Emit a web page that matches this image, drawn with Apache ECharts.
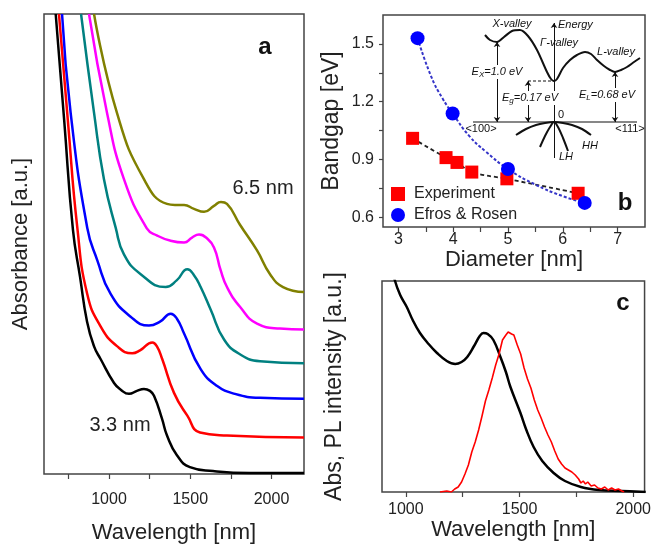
<!DOCTYPE html>
<html>
<head>
<meta charset="utf-8">
<script src="https://cdn.jsdelivr.net/npm/echarts@6/dist/echarts.min.js"></script>
<style>html,body{margin:0;padding:0;background:#fff}#c{width:654px;height:549px}</style>
</head>
<body>
<div id="c"></div>
<script>
// ---------- Panel a: absorbance spectra (wavelength nm, absorbance a.u.) ----------
const aTickValues = [750, 1000, 1250, 1500, 1750, 2000];
const aTickLabels = [1000, 1500, 2000];
const abs33nm = [[672,4.65],[725,3.56],[778,2.47],[822,1.99],[865,1.54],[908,1.29],[949,1.16],[1031,0.92],[1074,0.85],[1123,0.81],[1172,0.84],[1215,0.86],[1252,0.84],[1277,0.79],[1326,0.56],[1357,0.39],[1418,0.19],[1498,0.07],[1640,0.03],[1868,0.01],[2200,0.01]];
const absRed = [[692,4.65],[748,3.55],[805,2.49],[866,1.82],[949,1.49],[1051,1.29],[1143,1.22],[1191,1.25],[1267,1.33],[1295,1.29],[1328,1.16],[1400,0.82],[1482,0.59],[1560,0.42],[1726,0.39],[2200,0.37]];
const absBlue = [[711,4.65],[764,3.65],[866,2.49],[928,2.16],[1010,1.82],[1133,1.59],[1246,1.50],[1314,1.54],[1380,1.62],[1418,1.57],[1462,1.42],[1564,1.06],[1666,0.89],[1775,0.81],[1929,0.77],[2200,0.76]];
const absTeal = [[828,4.65],[908,3.65],[969,2.98],[1041,2.49],[1092,2.22],[1195,2.02],[1349,1.89],[1418,1.96],[1482,2.07],[1523,2.01],[1564,1.89],[1626,1.66],[1708,1.36],[1806,1.21],[1929,1.14],[2200,1.12]];
const absMagenta = [[877,4.65],[988,3.65],[1092,2.98],[1234,2.48],[1297,2.41],[1375,2.36],[1462,2.34],[1511,2.39],[1554,2.42],[1597,2.39],[1646,2.29],[1687,2.06],[1726,1.89],[1806,1.69],[1911,1.52],[2052,1.47],[2200,1.46]];
const abs65nm = [[908,4.65],[1049,3.65],[1215,2.98],[1357,2.73],[1406,2.72],[1462,2.72],[1523,2.68],[1585,2.65],[1646,2.71],[1689,2.75],[1726,2.73],[1806,2.52],[1911,2.26],[1991,2.02],[2071,1.89],[2200,1.84]];
const aSizeLabels = ['3.3 nm', '6.5 nm'];

// ---------- Panel b: bandgap vs diameter ----------
const bXTicks = [3, 3.5, 4, 4.5, 5, 5.5, 6, 6.5, 7];
const bXLabels = [3, 4, 5, 6, 7];
const bYTicks = [0.6, 0.75, 0.9, 1.05, 1.2, 1.35, 1.5];
const bYLabels = [0.6, 0.9, 1.2, 1.5];
const diameterExp = [3.26, 3.87, 4.07, 4.34, 4.98, 6.28];
const bandgapExp  = [1.01, 0.91, 0.885, 0.835, 0.80, 0.725];
const diameterER  = [3.35, 3.99, 5.0, 6.4];
const bandgapER   = [1.53, 1.139, 0.851, 0.675];
// dashed Efros & Rosen curve
const erCurveDiameter = [3.35, 3.6, 3.8, 3.99, 4.3, 4.6, 5.0, 5.5, 6.0, 6.4];
const erCurveBandgap  = [1.53, 1.33, 1.22, 1.139, 1.02, 0.94, 0.851, 0.77, 0.71, 0.675];

// ---------- Panel b inset: schematic band diagram (arbitrary units) ----------
const conductionBand = [[15,125],[20,120],[27,118],[34,123],[42,129],[50,130],[58,124],[67,110],[77,88],[81,81],[84,79],[87,81],[93,92],[100,100],[107,105],[115,108],[121,106],[127,100],[134,94],[140,90],[145,88],[151,90],[157,93],[164,98],[170,102]];
const heavyHole = [[46,25],[56,31],[66,35],[75,37],[84,38],[93,37],[102,35],[112,31],[121,25]];
const lightHole = [[70,13],[75,24],[80,33],[84,38],[88,33],[93,22],[98,9]];
const kAxis = [[3,38],[167,38]];
const energyAxis = [[84,2],[84,137]];
const arrowEX = [[27,118],[27,38]];
const arrowEg = [[58,79],[58,38]];
const arrowEL = [[145,88],[145,38]];
const gammaLevel = [[58,79],[84,79]];

// ---------- Panel c: absorption and PL of one sample ----------
const cTickValues = [1000, 1250, 1500, 1750, 2000];
const cTickLabels = [1000, 1500, 2000];
const cAbs = [[935,2.30],[951,2.12],[975,1.97],[1004,1.85],[1030,1.72],[1062,1.59],[1100,1.48],[1137,1.39],[1180,1.31],[1217,1.28],[1245,1.30],[1270,1.35],[1300,1.46],[1325,1.56],[1341,1.59],[1360,1.58],[1385,1.52],[1416,1.35],[1440,1.20],[1460,1.05],[1504,0.79],[1530,0.62],[1562,0.45],[1600,0.31],[1650,0.19],[1700,0.11],[1770,0.05],[1850,0.02],[1950,0.01],[2055,0.00]];
const cPL = [[1150,0.00],[1180,0.01],[1200,0.00],[1215,0.03],[1230,0.05],[1245,0.10],[1260,0.18],[1275,0.27],[1290,0.40],[1305,0.50],[1320,0.62],[1335,0.76],[1350,0.91],[1365,1.02],[1380,1.14],[1395,1.27],[1410,1.38],[1425,1.52],[1440,1.57],[1450,1.60],[1458,1.62],[1465,1.58],[1475,1.57],[1490,1.47],[1505,1.38],[1520,1.24],[1535,1.13],[1550,1.04],[1565,0.92],[1580,0.82],[1595,0.74],[1610,0.65],[1625,0.57],[1640,0.50],[1655,0.41],[1670,0.33],[1685,0.28],[1700,0.24],[1715,0.22],[1730,0.20],[1745,0.17],[1760,0.13],[1770,0.09],[1780,0.11],[1790,0.08],[1800,0.10],[1815,0.06],[1830,0.07],[1845,0.04],[1860,0.03],[1875,0.05],[1890,0.02],[1905,0.04],[1920,0.02],[1935,0.03],[1950,0.01],[1960,0.00]];

// ---------------------------------------------------------------
const FONT = 'Liberation Sans, Arial, sans-serif';
const TXT = '#222';
const chart = echarts.init(document.getElementById('c'), null, {renderer: 'canvas'});
const frame = {show: true, borderColor: '#444', borderWidth: 1.5, backgroundColor: 'transparent'};

function xAx(gridIndex, min, max, ticks, labels, name, nameGap, labelMargin) {
  return {
    type: 'value', gridIndex, min, max, name, nameLocation: 'middle', nameGap,
    nameTextStyle: {fontFamily: FONT, fontSize: 22, color: TXT},
    axisLine: {show: false}, splitLine: {show: false},
    axisTick: {show: true, inside: false, length: 5, customValues: ticks, lineStyle: {color: '#444', width: 1.2}},
    axisLabel: {show: true, customValues: labels, margin: labelMargin, fontFamily: FONT, fontSize: 16, color: TXT,
      formatter: v => String(v)}
  };
}

const option = {
  animation: false,
  backgroundColor: '#fff',
  grid: [
    Object.assign({left: 44, top: 14, width: 260, height: 465}, frame),
    Object.assign({left: 383, top: 15, width: 262, height: 212}, frame),
    Object.assign({left: 382, top: 281, width: 263, height: 211}, frame),
    {left: 470, top: 20, width: 175, height: 140, show: false}
  ],
  xAxis: [
    xAx(0, 600, 2200, aTickValues, aTickLabels, 'Wavelength [nm]', 48, 18),
    xAx(1, 2.72, 7.5, bXTicks, bXLabels, 'Diameter [nm]', 15, 5),
    xAx(2, 895, 2050, cTickValues, cTickLabels, 'Wavelength [nm]', 22, 10),
    {type: 'value', gridIndex: 3, min: 0, max: 175, show: false}
  ],
  yAxis: [
    {type: 'value', gridIndex: 0, min: 0, max: 4.65, name: 'Absorbance [a.u.]', nameLocation: 'middle', nameGap: 12,
     nameTextStyle: {fontFamily: FONT, fontSize: 22, color: TXT},
     axisLine: {show: false}, axisTick: {show: false}, axisLabel: {show: false}, splitLine: {show: false}},
    {type: 'value', gridIndex: 1, min: 0.55, max: 1.65, name: 'Bandgap [eV]', nameLocation: 'middle', nameGap: 40,
     nameTextStyle: {fontFamily: FONT, fontSize: 23, color: TXT},
     axisLine: {show: false}, splitLine: {show: false},
     axisTick: {show: true, length: 4, customValues: bYTicks, lineStyle: {color: '#444', width: 1.2}},
     axisLabel: {customValues: bYLabels, margin: 9, fontFamily: FONT, fontSize: 16, color: TXT, formatter: v => v.toFixed(1)}},
    {type: 'value', gridIndex: 2, min: 0, max: 2.11, name: 'Abs, PL intensity [a.u.]', nameLocation: 'middle', nameGap: 36,
     nameTextStyle: {fontFamily: FONT, fontSize: 23, color: TXT},
     axisLine: {show: false}, axisTick: {show: false}, axisLabel: {show: false}, splitLine: {show: false}},
    {type: 'value', gridIndex: 3, min: 0, max: 140, show: false}
  ],
  legend: {
    show: true, orient: 'vertical', left: 386, top: 181, itemGap: 5, itemWidth: 14, itemHeight: 14,
    textStyle: {fontFamily: FONT, fontSize: 16, color: TXT, padding: [0, 0, 0, 4]},
    data: [{name: 'Experiment', icon: 'rect'}, {name: 'Efros & Rosen', icon: 'circle'}]
  },
  series: [],
  graphic: []
};

const aLine = (data, color) => ({type: 'line', xAxisIndex: 0, yAxisIndex: 0, data, smooth: 0.5, showSymbol: false, symbol: 'none', clip: true,
  lineStyle: {color, width: 2.5}, silent: true});
option.series.push(aLine(abs33nm, '#000000'));
option.series.push(aLine(absRed, '#ff0000'));
option.series.push(aLine(absBlue, '#0000ff'));
option.series.push(aLine(absTeal, '#008080'));
option.series.push(aLine(absMagenta, '#ff00ff'));
option.series.push(aLine(abs65nm, '#808000'));

// panel b fits and points
const zip = (xs, ys) => xs.map((x, i) => [x, ys[i]]);
option.series.push({type: 'line', xAxisIndex: 1, yAxisIndex: 1, data: zip(diameterExp, bandgapExp), smooth: 0.4, symbol: 'none',
  lineStyle: {color: '#222', width: 1.8, type: [4, 3]}, z: 2});
option.series.push({type: 'line', xAxisIndex: 1, yAxisIndex: 1, data: zip(erCurveDiameter, erCurveBandgap), smooth: 0.5, symbol: 'none',
  lineStyle: {color: '#3535c8', width: 2, type: [3, 2]}, z: 2});
option.series.push({name: 'Experiment', type: 'scatter', xAxisIndex: 1, yAxisIndex: 1, data: zip(diameterExp, bandgapExp),
  symbol: 'rect', symbolSize: 13, itemStyle: {color: '#ff0000', opacity: 1}, z: 5});
option.series.push({name: 'Efros & Rosen', type: 'scatter', xAxisIndex: 1, yAxisIndex: 1, data: zip(diameterER, bandgapER),
  symbol: 'circle', symbolSize: 14, itemStyle: {color: '#0000ff', opacity: 1}, z: 5});

// inset
const insetLine = (data, width, extra) => Object.assign({type: 'line', xAxisIndex: 3, yAxisIndex: 3, data, symbol: 'none', clip: false,
  lineStyle: {color: '#111', width}, silent: true, z: 6}, extra || {});
option.series.push(insetLine(conductionBand, 2, {smooth: 0.3}));
option.series.push(insetLine(heavyHole, 2, {smooth: 0.3}));
option.series.push(insetLine(lightHole, 2, {smooth: 0.3}));
option.series.push(insetLine(kAxis, 1.2));
option.series.push(insetLine(gammaLevel, 1, {lineStyle: {color: '#111', width: 1, type: [3, 2]}}));
const arrowSeries = (coords, symbols) => ({type: 'lines', coordinateSystem: 'cartesian2d', xAxisIndex: 3, yAxisIndex: 3,
  data: [{coords}], symbol: symbols, symbolSize: 5, lineStyle: {color: '#111', width: 1, opacity: 1}, silent: true, z: 6});
option.series.push(arrowSeries(energyAxis, ['none', 'arrow']));
option.series.push(arrowSeries(arrowEX, ['arrow', 'arrow']));
option.series.push(arrowSeries(arrowEg, ['arrow', 'arrow']));
option.series.push(arrowSeries(arrowEL, ['arrow', 'arrow']));

// panel c
option.series.push({type: 'line', xAxisIndex: 2, yAxisIndex: 2, data: cAbs, smooth: 0.4, symbol: 'none', clip: true,
  lineStyle: {color: '#000', width: 2.5}});
option.series.push({type: 'line', xAxisIndex: 2, yAxisIndex: 2, data: cPL, smooth: false, symbol: 'none', clip: true,
  lineStyle: {color: '#ff0000', width: 1.6}});

// texts
const T = (text, x, y, opts) => ({type: 'text', x, y, z: 20, style: Object.assign({text, fontFamily: FONT, fontSize: 20, fill: TXT, align: 'center', verticalAlign: 'middle'}, opts || {})});
const it = {fontStyle: 'italic', fontSize: 11, fill: '#111'};
const rich = {
  i: {fontStyle: 'italic', fontSize: 11, fontFamily: FONT, fill: '#111', verticalAlign: 'middle'},
  s: {fontStyle: 'italic', fontSize: 8, fontFamily: FONT, fill: '#111', padding: [6, 0, 0, 0]}
};
option.graphic = [
  T('a', 265, 47, {fontSize: 24, fontWeight: 'bold', fill: '#111'}),
  T('b', 625, 203, {fontSize: 24, fontWeight: 'bold', fill: '#111'}),
  T('c', 623, 303, {fontSize: 24, fontWeight: 'bold', fill: '#111'}),
  T(aSizeLabels[1], 263, 188),
  T(aSizeLabels[0], 120, 425),
  T('X-valley', 512, 24, it),
  T('Energy', 558, 25, Object.assign({}, it, {align: 'left'})),
  T('\u0393-valley', 559, 43, it),
  T('L-valley', 616, 52, it),
  T('0', 558, 115, Object.assign({}, it, {align: 'left', fontStyle: 'normal'})),
  T('<100>', 481, 129, Object.assign({}, it, {fontStyle: 'normal'})),
  T('<111>', 630, 129, Object.assign({}, it, {fontStyle: 'normal'})),
  T('HH', 590, 146, it),
  T('LH', 566, 157, it),
  {type: 'text', x: 497, y: 72, z: 20, style: {text: '{i|E}{s|X}{i|=1.0 eV}', rich, align: 'center', verticalAlign: 'middle', backgroundColor: '#fff', padding: [0, 1]}},
  {type: 'text', x: 530, y: 98, z: 20, style: {text: '{i|E}{s|g}{i|=0.17 eV}', rich, align: 'center', verticalAlign: 'middle', backgroundColor: '#fff', padding: [0, 1]}},
  {type: 'text', x: 607, y: 95, z: 20, style: {text: '{i|E}{s|L}{i|=0.68 eV}', rich, align: 'center', verticalAlign: 'middle', backgroundColor: '#fff', padding: [0, 1]}}
];

chart.setOption(option);
</script>
</body>
</html>
